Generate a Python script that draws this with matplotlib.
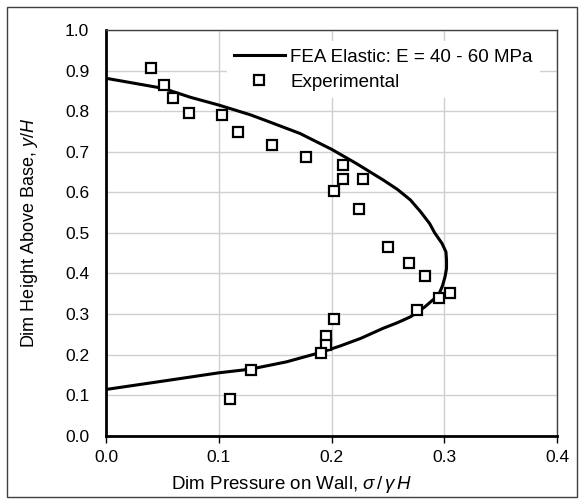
import numpy as np
import matplotlib.pyplot as plt
from matplotlib.patches import Rectangle

plt.rcParams['font.family'] = ['Liberation Sans', 'DejaVu Sans']
plt.rcParams['mathtext.fontset'] = 'custom'
plt.rcParams['mathtext.rm'] = 'Liberation Sans'
plt.rcParams['mathtext.it'] = 'Liberation Sans:italic'

# FEA elastic solution (pressure, height), bottom to top
fea_x = [0.000, 0.054, 0.100, 0.128, 0.160, 0.190, 0.2075, 0.226, 0.246, 0.258,
         0.270, 0.2765, 0.283, 0.295, 0.2985, 0.3007, 0.302, 0.302, 0.3015, 0.298,
         0.2915, 0.287, 0.279, 0.270, 0.2585, 0.246, 0.222, 0.200, 0.172, 0.1425,
         0.128, 0.100, 0.075, 0.051, 0.000]
fea_y = [0.114, 0.136, 0.155, 0.164, 0.182, 0.205, 0.221, 0.240, 0.265, 0.278,
         0.293, 0.305, 0.318, 0.347, 0.370, 0.392, 0.412, 0.433, 0.453, 0.474,
         0.500, 0.523, 0.552, 0.581, 0.607, 0.630, 0.671, 0.706, 0.745, 0.776,
         0.791, 0.815, 0.834, 0.856, 0.881]

# experimental points
exp_x = [0.040, 0.051, 0.059, 0.074, 0.103, 0.117, 0.147, 0.177, 0.210, 0.210,
         0.228, 0.202, 0.224, 0.250, 0.269, 0.283, 0.295, 0.305, 0.276, 0.202,
         0.195, 0.195, 0.191, 0.129, 0.110]
exp_y = [0.906, 0.864, 0.832, 0.796, 0.791, 0.749, 0.717, 0.688, 0.666, 0.633,
         0.633, 0.602, 0.560, 0.466, 0.425, 0.393, 0.340, 0.351, 0.309, 0.288,
         0.246, 0.224, 0.205, 0.162, 0.090]

fig = plt.figure(figsize=(5.84, 5.04), dpi=100)
ax = fig.add_axes([0.1815, 0.1355, 0.7723, 0.805])

ax.plot(fea_x, fea_y, color='black', lw=2.2, label='FEA Elastic: E = 40 - 60 MPa',
        zorder=3, solid_joinstyle='round')
ax.plot(exp_x, exp_y, ls='none', marker='s', ms=7, mfc='white', mec='black', mew=1.6,
        label='Experimental', zorder=4)

ax.set_xlim(0, 0.4)
ax.set_ylim(0, 1.0)
ax.set_xticks(np.arange(0, 0.41, 0.1))
ax.set_yticks(np.arange(0, 1.01, 0.1))
ax.xaxis.set_major_formatter(plt.FormatStrFormatter('%.1f'))
ax.yaxis.set_major_formatter(plt.FormatStrFormatter('%.1f'))
ax.grid(True, color='#d0d0d0', lw=1)
ax.set_axisbelow(True)

for s in ['left', 'bottom']:
    ax.spines[s].set_linewidth(2)
    ax.spines[s].set_color('black')
for s in ['top', 'right']:
    ax.spines[s].set_linewidth(1)
    ax.spines[s].set_color('#404040')

ax.tick_params(axis='x', length=5, width=1, direction='out', labelsize=12.5, pad=5, color='black')
ax.tick_params(axis='y', length=0, labelsize=12.5, pad=12)

ax.set_xlabel(r'Dim Pressure on Wall, $\sigma\,/\,\gamma\,H$', fontsize=13.5, labelpad=8)
ax.xaxis.set_label_coords(0.412, -0.095)
ax.set_ylabel(r'Dim Height Above Base, $y/H$', fontsize=13, labelpad=18)

leg = ax.legend(loc='upper right', bbox_to_anchor=(0.963, 0.972), borderaxespad=0,
                fontsize=13.5, frameon=True, fancybox=False, framealpha=1,
                handlelength=2.7, handletextpad=0.3, labelspacing=0.4, borderpad=0.4)
leg.get_frame().set_edgecolor('none')
leg.get_frame().set_facecolor('white')

# outer chart border
fig.patches.append(Rectangle((7 / 584, 7 / 504), 1 - 14 / 584, 1 - 14 / 504,
                             transform=fig.transFigure, fill=False,
                             edgecolor='#404040', lw=1))

fig.savefig('out.png', dpi=100)
